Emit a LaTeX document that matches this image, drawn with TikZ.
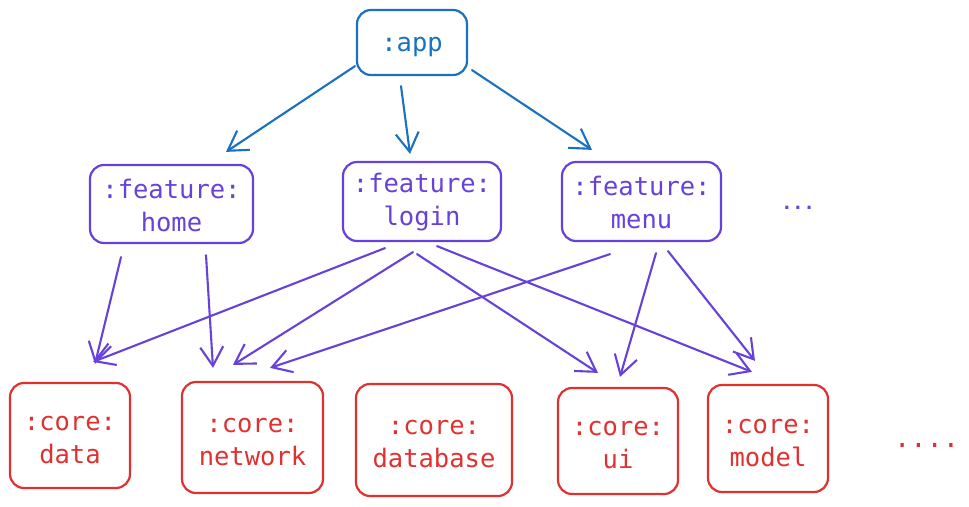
\documentclass[tikz,border=0pt]{standalone}
\usepackage{fontspec}
\newfontfamily\monofam{DejaVu Sans Mono}
\usetikzlibrary{arrows.meta,calc}
\definecolor{cblue}{HTML}{1971C2}
\definecolor{cpurple}{HTML}{6741D9}
\definecolor{cred}{HTML}{E03131}
\tikzset{
  boxbase/.style={draw, rectangle, rounded corners=14pt, line width=2.2pt, inner sep=0pt},
  txtbase/.style={inner sep=0pt, align=center, font=\monofam\fontsize{25.5}{33}\selectfont},
  appbox/.style={boxbase, draw=cblue},
  featbox/.style={boxbase, draw=cpurple},
  corebox/.style={boxbase, draw=cred},
  apptxt/.style={txtbase, text=cblue},
  feattxt/.style={txtbase, text=cpurple},
  coretxt/.style={txtbase, text=cred},
  arr/.style={line width=2.1pt, line cap=round, -{Straight Barb[length=19pt,width=23pt,line width=2.1pt]}},
  blarr/.style={arr, draw=cblue},
  parr/.style={arr, draw=cpurple},
}
\begin{document}
\begin{tikzpicture}[x=1pt,y=-1pt]
\useasboundingbox (0,0) rectangle (969,506);
% top
\node[appbox, minimum width=110pt, minimum height=65pt] (app) at (412,42.5) {};
\node[apptxt] (apptext) at ($(app.center)+(0,5)$) {:app};
% features
\node[featbox, minimum width=163pt, minimum height=78pt] (home) at (171.5,204) {};
\node[feattxt] (hometext) at ($(home.center)+(0,1)$) {:feature:\\home};
\node[featbox, minimum width=158pt, minimum height=79pt] (login) at (422,201.5) {};
\node[feattxt] (logintext) at ($(login.center)+(0,1)$) {:feature:\\login};
\node[featbox, minimum width=159pt, minimum height=79pt] (menu) at (641.5,201.5) {};
\node[feattxt] (menutext) at ($(menu.center)+(0,1)$) {:feature:\\menu};
\node[anchor=base, text=cpurple, inner sep=0pt, font=\monofam\bfseries\fontsize{18.5}{22}\selectfont] (fdots) at (798,209) {...};
% core
\node[corebox, minimum width=120pt, minimum height=105pt] (data) at (70,435.5) {};
\node[coretxt] (datatext) at ($(data.center)+(0,4.5)$) {:core:\\data};
\node[corebox, minimum width=141pt, minimum height=111pt] (network) at (252.5,437.5) {};
\node[coretxt] (networktext) at ($(network.center)+(0,4.5)$) {:core:\\network};
\node[corebox, minimum width=156pt, minimum height=112pt] (database) at (434,440) {};
\node[coretxt] (databasetext) at ($(database.center)+(0,4.5)$) {:core:\\database};
\node[corebox, minimum width=120pt, minimum height=106pt] (ui) at (618,441) {};
\node[coretxt] (uitext) at ($(ui.center)+(0,4.5)$) {:core:\\ui};
\node[corebox, minimum width=120pt, minimum height=107pt] (model) at (768,438.5) {};
\node[coretxt] (modeltext) at ($(model.center)+(0,4.5)$) {:core:\\model};
\node[anchor=base, text=cred, inner sep=0pt, font=\monofam\fontsize{27}{33}\selectfont] (cdots) at (926.5,447.5) {....};
% app arrows
\draw[blarr] ($(app.south)+(-57,-10)$) -- ($(home.north)+(54.5,-12)$);
\draw[blarr] ($(app.south)+(-11,10)$) -- ($(login.north)+(-12,-7)$);
\draw[blarr] ($(app.south)+(60,-6)$) -- ($(menu.north)+(-49.5,-11)$);
% home arrows
\draw[parr] ($(home.south)+(-50.5,13)$) -- ($(data.north)+(25,-18)$);
\draw[parr] ($(home.south)+(34.5,11)$) -- ($(network.north)+(-39.5,-13)$);
% login arrows
\draw[parr] ($(login.south)+(-37,6)$) -- ($(data.north)+(23,-20)$);
\draw[parr] ($(login.south)+(-9,10)$) -- ($(network.north)+(-19.5,-16)$);
\draw[parr] ($(login.south)+(-5,12)$) -- ($(ui.north)+(-20,-14)$);
\draw[parr] ($(login.south)+(15,4)$) -- ($(model.north)+(-16,-12)$);
% menu arrows
\draw[parr] ($(menu.south)+(-31.5,12)$) -- ($(network.north)+(17.5,-13)$);
\draw[parr] ($(menu.south)+(14.5,11)$) -- ($(ui.north)+(2,-10)$);
\draw[parr] ($(menu.south)+(26.5,9)$) -- ($(model.north)+(-13,-23)$);
\end{tikzpicture}
\end{document}
